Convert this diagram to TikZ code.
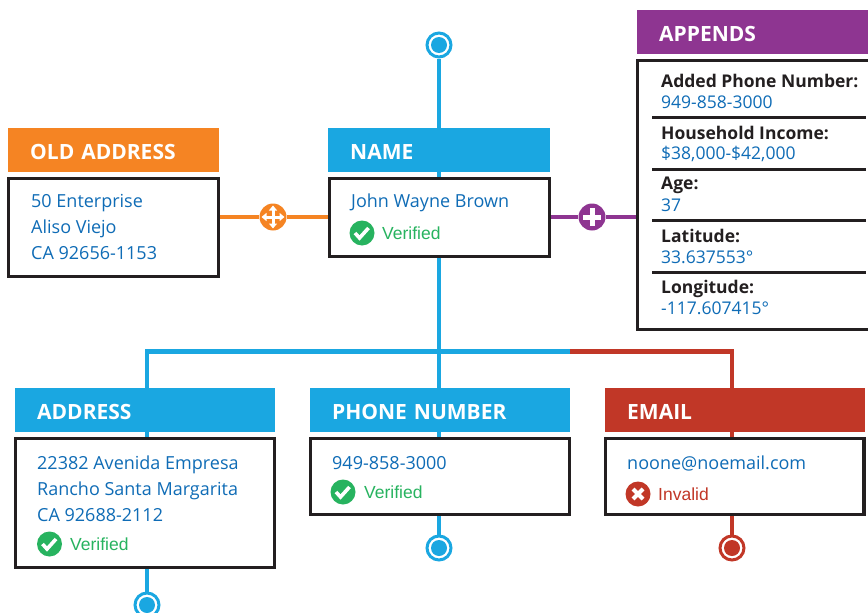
\documentclass[tikz,border=0pt]{standalone}
\usepackage{fontspec}
\setmainfont{Open Sans}
\newfontfamily\statusfont{Liberation Sans}
\usetikzlibrary{arrows.meta}
\definecolor{skyblue}{HTML}{1AA7E1}
\definecolor{tangerine}{HTML}{F58423}
\definecolor{plum}{HTML}{8E3591}
\definecolor{brick}{HTML}{C13727}
\definecolor{okgreen}{HTML}{27B35F}
\definecolor{valueblue}{HTML}{0F6CB6}
\definecolor{inkblack}{HTML}{231F20}
\begin{document}
\begin{tikzpicture}[x=1pt,y=1pt,
  every node/.append style={inner sep=0pt},
  titlebar/.style={anchor=north west,text=white,minimum height=44pt,inner xsep=22pt,align=left,text height=19pt,text depth=0pt,font=\fontsize{21}{23}\selectfont\bfseries},
  framebox/.style={anchor=north west,draw=inkblack,line width=3.4pt,fill=white},
  bodytext/.style={anchor=north west,align=left,text=valueblue,font=\fontsize{18}{26}\selectfont},
  headtext/.style={anchor=base west,text=inkblack,font=\fontsize{17.5}{20}\selectfont\bfseries},
  valuetext/.style={anchor=base west,text=valueblue,font=\fontsize{17.5}{20}\selectfont},
  statustext/.style={anchor=west,font=\fontsize{17.5}{20}\selectfont\statusfont},
  rule/.style={line width=3pt,inkblack},
  wire/.style={line width=4.8pt},
  ring/.style={circle,draw=#1,line width=3pt,fill=white,minimum size=24pt,path picture={\fill[#1] (path picture bounding box.center) circle (8pt);}},
  okmark/.style={circle,fill=okgreen,minimum size=25pt,path picture={\draw[white,line width=3.6pt] ([shift={(-7,0)}]path picture bounding box.center) -- ++(4.5,-5) -- ++(9,10);}},
  badmark/.style={circle,fill=brick,minimum size=25pt,path picture={\draw[white,line width=4pt] ([shift={(-5,-5)}]path picture bounding box.center) -- ++(10,10) ([shift={(-5,5)}]path picture bounding box.center) -- ++(10,-10);}},
  plusmark/.style={circle,fill=plum,minimum size=27pt,path picture={\draw[white,line width=5pt] ([shift={(-9,0)}]path picture bounding box.center) -- ++(18,0) ([shift={(0,-9)}]path picture bounding box.center) -- ++(0,18);}},
  movemark/.style={circle,fill=tangerine,minimum size=27pt,path picture={\draw[white,line width=3pt,{Triangle[length=5pt,width=8pt]}-{Triangle[length=5pt,width=8pt]}] ([shift={(-11.5,0)}]path picture bounding box.center) -- ++(23,0); \draw[white,line width=3pt,{Triangle[length=5pt,width=8pt]}-{Triangle[length=5pt,width=8pt]}] ([shift={(0,-11.5)}]path picture bounding box.center) -- ++(0,23);}}]
\useasboundingbox (0,0) rectangle (868,-613);
\clip (0,0) rectangle (868,-613);
\node [ring=skyblue] (topRing) at (439,-45) {};
\node [ring=skyblue] (addressRing) at (147,-605) {};
\node [ring=skyblue] (phoneRing) at (439,-548) {};
\node [ring=brick] (emailRing) at (732,-548) {};
\node [titlebar,fill=tangerine,text width=167pt] (oldTitle) at (8,-128) {OLD ADDRESS};
\node [titlebar,fill=skyblue,text width=178pt] (nameTitle) at (328,-128) {NAME};
\node [titlebar,fill=plum,text width=200pt] (appendsTitle) at (637,-10) {APPENDS};
\node [titlebar,fill=skyblue,text width=216pt] (addressTitle) at (15,-388) {ADDRESS};
\node [titlebar,fill=skyblue,text width=216pt] (phoneTitle) at (310,-388) {PHONE NUMBER};
\node [titlebar,fill=brick,text width=216pt] (emailTitle) at (605,-388) {EMAIL};
\node [framebox,minimum width=209.6pt,minimum height=97.6pt] (oldBox) at (7,-177) {};
\node [framebox,minimum width=220pt,minimum height=77.6pt] (nameBox) at (327.5,-177) {};
\node [framebox,minimum width=250pt,minimum height=268.6pt] (appendsBox) at (636,-59) {};
\node [framebox,minimum width=258.6pt,minimum height=128.6pt] (addressBox) at (14,-437) {};
\node [framebox,minimum width=258.6pt,minimum height=75.6pt] (phoneBox) at (309,-437) {};
\node [framebox,minimum width=258.9pt,minimum height=75.6pt] (emailBox) at (603.5,-437) {};
\coordinate (addressCorner) at (147,-351.5);
\coordinate (emailCorner) at (732,-351.5);
\coordinate (busSplit) at (570,-351.5);
\node [movemark] (moveIcon) at (273,-217) {};
\node [plusmark] (plusIcon) at (592,-217) {};
\draw [wire,skyblue] (topRing) -- (topRing |- nameTitle.north);
\draw [wire,skyblue] (topRing |- nameTitle.south) -- (topRing |- nameBox.north);
\draw [wire,skyblue] (topRing |- nameBox.south) -- (topRing |- phoneTitle.north);
\draw [wire,skyblue] (topRing |- phoneTitle.south) -- (topRing |- phoneBox.north);
\draw [wire,skyblue] (topRing |- phoneBox.south) -- (phoneRing);
\draw [wire,skyblue] (busSplit) -- (addressCorner) -- (addressCorner |- addressTitle.north);
\draw [wire,skyblue] (addressTitle.south -| addressCorner) -- (addressBox.north -| addressCorner);
\draw [wire,skyblue] (addressBox.south -| addressCorner) -- (addressRing);
\draw [wire,brick] (busSplit) -- (emailCorner) -- (emailCorner |- emailTitle.north);
\draw [wire,brick] (emailTitle.south -| emailCorner) -- (emailBox.north -| emailCorner);
\draw [wire,brick] (emailBox.south -| emailCorner) -- (emailRing);
\draw [wire,tangerine] (oldBox.east |- moveIcon) -- (moveIcon);
\draw [wire,tangerine] (moveIcon) -- (nameBox.west |- moveIcon);
\draw [wire,plum] (nameBox.east |- plusIcon) -- (plusIcon);
\draw [wire,plum] (plusIcon) -- (appendsBox.west |- plusIcon);
\node [bodytext] (oldText) at (31,-194) {50 Enterprise\\Aliso Viejo\\CA 92656-1153};
\node [bodytext] (nameText) at (351,-194) {John Wayne Brown};
\node [okmark] (nameOk) at (362,-233) {};
\node [statustext,text=okgreen] (nameStatus) at (382,-233) {Verified};
\node [bodytext] (addressText) at (37,-456) {22382 Avenida Empresa\\Rancho Santa Margarita\\CA 92688-2112};
\node [okmark] (addressOk) at (49.5,-544) {};
\node [statustext,text=okgreen] (addressStatus) at (70,-544) {Verified};
\node [bodytext] (phoneText) at (332,-456) {949-858-3000};
\node [okmark] (phoneOk) at (343,-492) {};
\node [statustext,text=okgreen] (phoneStatus) at (364,-492) {Verified};
\node [bodytext] (emailText) at (627,-456) {noone@noemail.com};
\node [badmark] (emailBad) at (638,-494) {};
\node [statustext,text=brick] (emailStatus) at (658,-494) {Invalid};
\node [headtext] (phoneHead) at (661,-87) {Added Phone Number:};
\node [valuetext] (phoneValue) at (661,-108) {949-858-3000};
\node [headtext] (incomeHead) at (661,-139.5) {Household Income:};
\node [valuetext] (incomeValue) at (661,-159.5) {\$38,000-\$42,000};
\node [headtext] (ageHead) at (661,-189.5) {Age:};
\node [valuetext] (ageValue) at (661,-211) {37};
\node [headtext] (latHead) at (661,-242) {Latitude:};
\node [valuetext] (latValue) at (661,-263) {33.637553°};
\node [headtext] (lonHead) at (661,-293) {Longitude:};
\node [valuetext] (lonValue) at (661,-314) {-117.607415°};
\coordinate (ruleLeft) at (652,0);
\coordinate (ruleRight) at (866,0);
\draw [rule] (ruleLeft |- 0,-117) -- (ruleRight |- 0,-117);
\draw [rule] (ruleLeft |- 0,-169) -- (ruleRight |- 0,-169);
\draw [rule] (ruleLeft |- 0,-220) -- (ruleRight |- 0,-220);
\draw [rule] (ruleLeft |- 0,-272) -- (ruleRight |- 0,-272);
\end{tikzpicture}
\end{document}
